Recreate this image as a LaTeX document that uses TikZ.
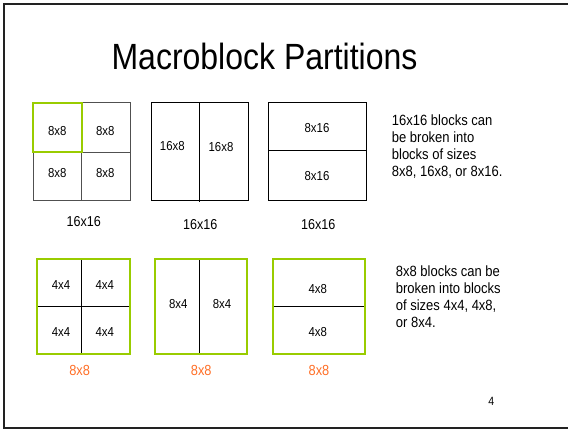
\documentclass[tikz,border=0pt]{standalone}
\usepackage{fontspec}
\usepackage{graphicx}
\setmainfont{Liberation Sans}
\definecolor{blockgreen}{RGB}{153,204,0}
\definecolor{sizeorange}{RGB}{255,112,40}
\definecolor{framegray}{RGB}{34,34,34}
\definecolor{gridgray}{RGB}{80,80,80}
% glyphs on the slide are slightly taller than wide
\newcommand{\talltext}[1]{\scalebox{1}[1.14]{#1}}
\begin{document}
\begin{tikzpicture}[x=1pt,y=1pt,
  cellfont/.style={inner sep=0pt, font=\fontsize{11.4}{13}\selectfont},
  capfont/.style={inner sep=0pt, font=\fontsize{12.6}{14}\selectfont},
  orangefont/.style={inner sep=0pt, text=sizeorange, font=\fontsize{12.8}{14}\selectfont},
  notefont/.style={inner sep=0pt, anchor=base west, font=\fontsize{13}{15}\selectfont},
  blackline/.style={draw=black, line width=1pt},
  grayline/.style={draw=gridgray, line width=1.2pt},
  greenline/.style={draw=blockgreen, line width=2pt}]
\useasboundingbox (0,0) rectangle (568,-429);
\fill[white] (0,0) rectangle (568,-429);

% slide frame, open on the right
\draw[framegray, line width=2pt] (570,-4) -- (4,-4) -- (4,-428) -- (570,-428);

% title
\node[inner sep=0pt, anchor=base, font=\fontsize{32}{36}\selectfont] (title) at (264.5,-69.3) {\talltext{Macroblock Partitions}};

% ---- 16x16 partitions ----
% four 8x8
\draw[grayline] (33.3,-102.7) rectangle (130.3,-200.3);
\draw[grayline] (81.7,-102.7) -- (81.7,-200.3);
\draw[grayline] (33.3,-152.3) -- (130.3,-152.3);
\draw[greenline] (33.3,-102.7) rectangle (81.7,-152.3);
\node[cellfont] (a1) at (57.3,-130.7) {\talltext{8x8}};
\node[cellfont] (a2) at (105.3,-130.7) {\talltext{8x8}};
\node[cellfont] (a3) at (57.3,-172.7) {\talltext{8x8}};
\node[cellfont] (a4) at (105.3,-172.7) {\talltext{8x8}};
\node[capfont] (la) at (83.7,-221.3) {\talltext{16x16}};

% two 16x8
\draw[blackline] (151.3,-102.7) rectangle (248,-200.3);
\draw[blackline] (199.3,-102.7) -- (199.3,-201.5);
\node[cellfont] (b1) at (172.3,-145.7) {\talltext{16x8}};
\node[cellfont] (b2) at (221,-146.7) {\talltext{16x8}};
\node[capfont] (lb) at (200.3,-224.3) {\talltext{16x16}};

% two 8x16
\draw[blackline] (268.7,-102.7) rectangle (366,-200.3);
\draw[blackline] (268.7,-150.3) -- (366,-150.3);
\node[cellfont] (c1) at (317,-127.7) {\talltext{8x16}};
\node[cellfont] (c2) at (317,-175.7) {\talltext{8x16}};
\node[capfont] (lc) at (318.3,-224.3) {\talltext{16x16}};

% note on 16x16
\node[notefont] (n1a) at (391.7,-125.6) {\talltext{16x16 blocks can}};
\node[notefont] (n1b) at (391.7,-142.7) {\talltext{be broken into}};
\node[notefont] (n1c) at (391.7,-159.8) {\talltext{blocks of sizes}};
\node[notefont] (n1d) at (391.7,-176.9) {\talltext{8x8, 16x8, or 8x16.}};

% ---- 8x8 partitions ----
% four 4x4
\draw[blackline] (81.3,-258.7) -- (81.3,-354);
\draw[blackline] (37.3,-306) -- (129.7,-306);
\draw[greenline] (37.3,-258.7) rectangle (129.7,-354);
\node[cellfont] (d1) at (61,-284.7) {\talltext{4x4}};
\node[cellfont] (d2) at (104.7,-284.7) {\talltext{4x4}};
\node[cellfont] (d3) at (61,-332) {\talltext{4x4}};
\node[cellfont] (d4) at (104.7,-332) {\talltext{4x4}};
\node[orangefont] (ld) at (79.7,-370) {\talltext{8x8}};

% two 8x4
\draw[blackline] (199.3,-258.7) -- (199.3,-354);
\draw[greenline] (155.3,-258.7) rectangle (247.3,-354);
\node[cellfont] (e1) at (178.3,-303.7) {\talltext{8x4}};
\node[cellfont] (e2) at (222,-303.7) {\talltext{8x4}};
\node[orangefont] (le) at (201.3,-370) {\talltext{8x8}};

% two 4x8
\draw[blackline] (273,-306) -- (365.3,-306);
\draw[greenline] (273,-258.7) rectangle (365.3,-354);
\node[cellfont] (f1) at (317.7,-288.7) {\talltext{4x8}};
\node[cellfont] (f2) at (317.7,-332) {\talltext{4x8}};
\node[orangefont] (lf) at (319,-370) {\talltext{8x8}};

% note on 8x8
\node[notefont] (n2a) at (395.7,-276.6) {\talltext{8x8 blocks can be}};
\node[notefont] (n2b) at (395.7,-293.7) {\talltext{broken into blocks}};
\node[notefont] (n2c) at (395.7,-310.8) {\talltext{of sizes 4x4, 4x8,}};
\node[notefont] (n2d) at (395.7,-327.9) {\talltext{or 8x4.}};

% page number
\node[inner sep=0pt, font=\fontsize{10.5}{12}\selectfont] (page) at (491.3,-401) {\talltext{4}};
\end{tikzpicture}
\end{document}
